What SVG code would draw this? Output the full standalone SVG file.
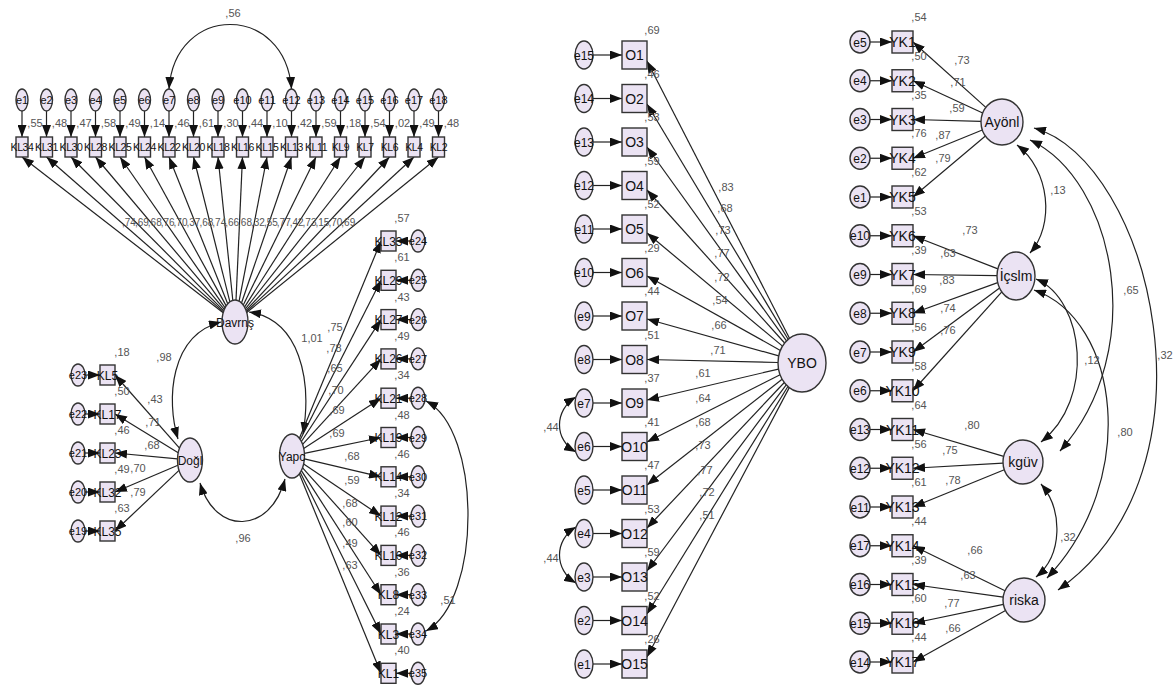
<svg xmlns="http://www.w3.org/2000/svg" width="1175" height="691" viewBox="0 0 1175 691">
<defs>
<marker id="ah" viewBox="0 0 12 9" refX="12" refY="4.5" markerWidth="12" markerHeight="9" markerUnits="userSpaceOnUse" orient="auto-start-reverse"><path d="M0,0L12,4.5L0,9z" fill="#111"/></marker>
<style>
ellipse,rect{fill:#ebe3f3;stroke:#333;stroke-width:1.4}
text{font-family:"Liberation Sans",Arial,sans-serif}
.n{fill:#111;text-anchor:middle;font-size:12px}
.t{font-size:10.5px;letter-spacing:-0.4px}
.s{font-size:11px}
.m{font-size:14px}
.v{fill:#555;font-size:11px;text-anchor:middle}
.vs{fill:#555;font-size:10px}
#connectors line,#connectors path{stroke:#222;stroke-width:1.2;fill:none;marker-end:url(#ah)}
#connectors path.cv{marker-start:url(#ah)}
</style>
</defs>
<rect x="0" y="0" width="1175" height="691" style="fill:#fff;stroke:none"/>
<g id="connectors">
<line x1="22" y1="111" x2="22" y2="137"/><line x1="46.5" y1="111" x2="46.5" y2="137"/><line x1="71" y1="111" x2="71" y2="137"/><line x1="95.5" y1="111" x2="95.5" y2="137"/><line x1="120" y1="111" x2="120" y2="137"/><line x1="144.5" y1="111" x2="144.5" y2="137"/><line x1="169" y1="111" x2="169" y2="137"/><line x1="193.5" y1="111" x2="193.5" y2="137"/><line x1="218" y1="111" x2="218" y2="137"/><line x1="242.5" y1="111" x2="242.5" y2="137"/><line x1="267" y1="111" x2="267" y2="137"/><line x1="291.5" y1="111" x2="291.5" y2="137"/><line x1="316" y1="111" x2="316" y2="137"/><line x1="340.5" y1="111" x2="340.5" y2="137"/><line x1="365" y1="111" x2="365" y2="137"/><line x1="389.5" y1="111" x2="389.5" y2="137"/><line x1="414" y1="111" x2="414" y2="137"/><line x1="438.5" y1="111" x2="438.5" y2="137"/>
<line x1="223.2" y1="312.8" x2="22" y2="157"/><line x1="223.5" y1="311.9" x2="46.5" y2="157"/><line x1="223.8" y1="310.8" x2="71" y2="157"/><line x1="224.3" y1="309.4" x2="95.5" y2="157"/><line x1="225.1" y1="307.8" x2="120" y2="157"/><line x1="226.2" y1="305.9" x2="144.5" y2="157"/><line x1="227.7" y1="303.8" x2="169" y2="157"/><line x1="229.9" y1="301.8" x2="193.5" y2="157"/><line x1="232.8" y1="300.3" x2="218" y2="157"/><line x1="236" y1="300.1" x2="242.5" y2="157"/><line x1="239.1" y1="301.1" x2="267" y2="157"/><line x1="241.5" y1="303" x2="291.5" y2="157"/><line x1="243.3" y1="305.1" x2="316" y2="157"/><line x1="244.5" y1="307.1" x2="340.5" y2="157"/><line x1="245.4" y1="308.8" x2="365" y2="157"/><line x1="246" y1="310.3" x2="389.5" y2="157"/><line x1="246.4" y1="311.5" x2="414" y2="157"/><line x1="246.7" y1="312.5" x2="438.5" y2="157"/>
<path class="cv" d="M169,89 C175,3 285,3 291.5,89"/>
<line x1="85" y1="375" x2="100" y2="375"/><line x1="85" y1="414" x2="100" y2="414"/><line x1="85" y1="453" x2="100" y2="453"/><line x1="85" y1="492" x2="100" y2="492"/><line x1="85" y1="531" x2="100" y2="531"/>
<line x1="179.5" y1="448.1" x2="115" y2="375"/><line x1="178.2" y1="452.8" x2="115" y2="414"/><line x1="177.5" y1="458.8" x2="115" y2="453"/><line x1="177.9" y1="465.2" x2="115" y2="492"/><line x1="179" y1="470.4" x2="115" y2="531"/>
<path class="cv" d="M178,439 C166,400 170,335 221,322"/>
<path class="cv" d="M249,312 C300,320 312,380 303,434"/>
<path class="cv" d="M200,483 C215,535 270,535 285,479"/>
<line x1="411" y1="241" x2="396" y2="241"/><line x1="411" y1="280.3" x2="396" y2="280.3"/><line x1="411" y1="319.6" x2="396" y2="319.6"/><line x1="411" y1="358.9" x2="396" y2="358.9"/><line x1="411" y1="398.2" x2="396" y2="398.2"/><line x1="411" y1="437.5" x2="396" y2="437.5"/><line x1="411" y1="476.8" x2="396" y2="476.8"/><line x1="411" y1="516.1" x2="396" y2="516.1"/><line x1="411" y1="555.4" x2="396" y2="555.4"/><line x1="411" y1="594.7" x2="396" y2="594.7"/><line x1="411" y1="634" x2="396" y2="634"/><line x1="411" y1="673.3" x2="396" y2="673.3"/>
<line x1="299.4" y1="438.2" x2="381" y2="241"/><line x1="300.3" y1="439.6" x2="381" y2="280.3"/><line x1="301.4" y1="441.5" x2="381" y2="319.6"/><line x1="302.6" y1="444.4" x2="381" y2="358.9"/><line x1="303.7" y1="448.4" x2="381" y2="398.2"/><line x1="304.4" y1="453.4" x2="381" y2="437.5"/><line x1="304.4" y1="458.9" x2="381" y2="476.8"/><line x1="303.7" y1="463.9" x2="381" y2="516.1"/><line x1="302.6" y1="467.8" x2="381" y2="555.4"/><line x1="301.4" y1="470.6" x2="381" y2="594.7"/><line x1="300.3" y1="472.5" x2="381" y2="634"/><line x1="299.3" y1="473.8" x2="381" y2="673.3"/>
<path class="cv" d="M426,401 C482,430 482,600 426,631"/>
<line x1="593" y1="55" x2="622" y2="55"/><line x1="593" y1="98.5" x2="622" y2="98.5"/><line x1="593" y1="142" x2="622" y2="142"/><line x1="593" y1="185.5" x2="622" y2="185.5"/><line x1="593" y1="229" x2="622" y2="229"/><line x1="593" y1="272.5" x2="622" y2="272.5"/><line x1="593" y1="316" x2="622" y2="316"/><line x1="593" y1="359.5" x2="622" y2="359.5"/><line x1="593" y1="403" x2="622" y2="403"/><line x1="593" y1="446.5" x2="622" y2="446.5"/><line x1="593" y1="490" x2="622" y2="490"/><line x1="593" y1="533.5" x2="622" y2="533.5"/><line x1="593" y1="577" x2="622" y2="577"/><line x1="593" y1="620.5" x2="622" y2="620.5"/><line x1="593" y1="664" x2="622" y2="664"/>
<line x1="789.5" y1="338.2" x2="647" y2="61"/><line x1="788.1" y1="339.3" x2="647" y2="104"/><line x1="786.5" y1="340.9" x2="647" y2="147"/><line x1="784.6" y1="343" x2="647" y2="190"/><line x1="782.5" y1="346.1" x2="647" y2="233"/><line x1="780.4" y1="350.4" x2="647" y2="276"/><line x1="778.7" y1="355.9" x2="647" y2="319"/><line x1="778" y1="362.5" x2="647" y2="359.5"/><line x1="778.5" y1="369.1" x2="647" y2="400"/><line x1="780.1" y1="374.8" x2="647" y2="442"/><line x1="782.1" y1="379.3" x2="647" y2="485"/><line x1="784.3" y1="382.5" x2="647" y2="528"/><line x1="786.2" y1="384.8" x2="647" y2="571"/><line x1="787.9" y1="386.5" x2="647" y2="614"/><line x1="789.3" y1="387.6" x2="647" y2="657"/>
<path class="cv" d="M576,397 C554,410 554,440 576,452"/>
<path class="cv" d="M576,527 C554,540 554,570 576,583"/>
<line x1="870" y1="42" x2="892" y2="42"/><line x1="870" y1="80.75" x2="892" y2="80.75"/><line x1="870" y1="119.5" x2="892" y2="119.5"/><line x1="870" y1="158.25" x2="892" y2="158.25"/><line x1="870" y1="197" x2="892" y2="197"/><line x1="870" y1="235.75" x2="892" y2="235.75"/><line x1="870" y1="274.5" x2="892" y2="274.5"/><line x1="870" y1="313.25" x2="892" y2="313.25"/><line x1="870" y1="352" x2="892" y2="352"/><line x1="870" y1="390.75" x2="892" y2="390.75"/><line x1="870" y1="429.5" x2="892" y2="429.5"/><line x1="870" y1="468.25" x2="892" y2="468.25"/><line x1="870" y1="507" x2="892" y2="507"/><line x1="870" y1="545.75" x2="892" y2="545.75"/><line x1="870" y1="584.5" x2="892" y2="584.5"/><line x1="870" y1="623.25" x2="892" y2="623.25"/><line x1="870" y1="662" x2="892" y2="662"/>
<line x1="985.8" y1="107.4" x2="913" y2="42"/><line x1="982.7" y1="113" x2="913" y2="80.75"/><line x1="981" y1="121.4" x2="913" y2="119.5"/><line x1="982.3" y1="130" x2="913" y2="158.25"/><line x1="985.4" y1="136" x2="913" y2="197"/>
<line x1="997.9" y1="268.9" x2="913" y2="235.75"/><line x1="997" y1="275.7" x2="913" y2="274.5"/><line x1="997.7" y1="282.6" x2="913" y2="313.25"/><line x1="999.6" y1="288.1" x2="913" y2="352"/><line x1="1001.8" y1="291.9" x2="913" y2="390.75"/>
<line x1="1003.7" y1="456.3" x2="913" y2="429.5"/><line x1="1003" y1="463.1" x2="913" y2="468.25"/><line x1="1004.3" y1="469.7" x2="913" y2="507"/>
<line x1="1005" y1="590.7" x2="913" y2="545.75"/><line x1="1003.2" y1="597.1" x2="913" y2="584.5"/><line x1="1003.4" y1="604.3" x2="913" y2="623.25"/><line x1="1005.5" y1="610.4" x2="913" y2="662"/>
<path class="cv" d="M1017,145 C1050,170 1055,225 1030,253"/>
<path class="cv" d="M1030,140 C1115,180 1150,350 1060,451"/>
<path class="cv" d="M1034,128 C1150,160 1228,470 1058,590"/>
<path class="cv" d="M1036,279 C1085,300 1095,400 1041,442"/>
<path class="cv" d="M1034,290 C1120,320 1140,480 1047,578"/>
<path class="cv" d="M1041,484 C1063,510 1063,555 1036,577"/>
</g>
<g id="labels">
<text class="v" x="233" y="17">,56</text>
<text class="v" x="35" y="127">,55</text><text class="v" x="59.5" y="127">,48</text><text class="v" x="84" y="127">,47</text><text class="v" x="108.5" y="127">,58</text><text class="v" x="133" y="127">,49</text><text class="v" x="157.5" y="127">,14</text><text class="v" x="182" y="127">,46</text><text class="v" x="206.5" y="127">,61</text><text class="v" x="231" y="127">,30</text><text class="v" x="255.5" y="127">,44</text><text class="v" x="280" y="127">,10</text><text class="v" x="304.5" y="127">,42</text><text class="v" x="329" y="127">,59</text><text class="v" x="353.5" y="127">,18</text><text class="v" x="378" y="127">,54</text><text class="v" x="402.5" y="127">,02</text><text class="v" x="427" y="127">,49</text><text class="v" x="451.5" y="127">,48</text>
<text class="vs" x="122" y="226">,74</text><text class="vs" x="134.9" y="226">,69</text><text class="vs" x="147.8" y="226">,68</text><text class="vs" x="160.7" y="226">,76</text><text class="vs" x="173.6" y="226">,70</text><text class="vs" x="186.5" y="226">,37</text><text class="vs" x="199.4" y="226">,68</text><text class="vs" x="212.3" y="226">,74</text><text class="vs" x="225.2" y="226">,66</text><text class="vs" x="238.1" y="226">,68</text><text class="vs" x="251" y="226">,32</text><text class="vs" x="263.9" y="226">,55</text><text class="vs" x="276.8" y="226">,77</text><text class="vs" x="289.7" y="226">,42</text><text class="vs" x="302.6" y="226">,73</text><text class="vs" x="315.5" y="226">,15</text><text class="vs" x="328.4" y="226">,70</text><text class="vs" x="341.3" y="226">,69</text>
<text class="v" x="164" y="361">,98</text><text class="v" x="312" y="342">1,01</text><text class="v" x="243" y="542">,96</text>
<text class="v" x="122" y="356">,18</text><text class="v" x="122" y="395">,50</text><text class="v" x="122" y="434">,46</text><text class="v" x="122" y="473">,49</text><text class="v" x="122" y="512">,63</text>
<text class="v" x="155" y="403">,43</text><text class="v" x="153" y="426">,71</text><text class="v" x="152" y="449">,68</text><text class="v" x="138" y="472">,70</text><text class="v" x="138" y="496">,79</text>
<text class="v" x="402" y="222">,57</text><text class="v" x="402" y="261.3">,61</text><text class="v" x="402" y="300.6">,43</text><text class="v" x="402" y="339.9">,49</text><text class="v" x="402" y="379.2">,34</text><text class="v" x="402" y="418.5">,48</text><text class="v" x="402" y="457.8">,46</text><text class="v" x="402" y="497.1">,34</text><text class="v" x="402" y="536.4">,46</text><text class="v" x="402" y="575.7">,36</text><text class="v" x="402" y="615">,24</text><text class="v" x="402" y="654.3">,40</text>
<text class="v" x="335" y="331">,75</text><text class="v" x="334" y="352">,78</text><text class="v" x="335" y="372">,65</text><text class="v" x="336" y="394">,70</text><text class="v" x="337" y="414">,69</text><text class="v" x="337" y="437">,69</text><text class="v" x="352" y="460">,68</text><text class="v" x="352" y="484">,59</text><text class="v" x="350" y="507">,68</text><text class="v" x="350" y="526">,60</text><text class="v" x="350" y="547">,49</text><text class="v" x="350" y="569">,63</text>
<text class="v" x="448" y="604">,51</text>
<text class="v" x="652" y="34">,69</text><text class="v" x="652" y="77.5">,46</text><text class="v" x="652" y="121">,53</text><text class="v" x="652" y="164.5">,59</text><text class="v" x="652" y="208">,52</text><text class="v" x="652" y="251.5">,29</text><text class="v" x="652" y="295">,44</text><text class="v" x="652" y="338.5">,51</text><text class="v" x="652" y="382">,37</text><text class="v" x="652" y="425.5">,41</text><text class="v" x="652" y="469">,47</text><text class="v" x="652" y="512.5">,53</text><text class="v" x="652" y="556">,59</text><text class="v" x="652" y="599.5">,52</text><text class="v" x="652" y="643">,26</text>
<text class="v" x="726" y="191">,83</text><text class="v" x="725" y="212">,68</text><text class="v" x="723" y="234">,73</text><text class="v" x="722" y="257">,77</text><text class="v" x="722" y="281">,72</text><text class="v" x="720" y="304">,54</text><text class="v" x="719" y="329">,66</text><text class="v" x="718" y="354">,71</text><text class="v" x="703" y="377">,61</text><text class="v" x="703" y="402">,64</text><text class="v" x="703" y="426">,68</text><text class="v" x="703" y="449">,73</text><text class="v" x="705" y="474">,77</text><text class="v" x="707" y="496">,72</text><text class="v" x="707" y="519">,51</text>
<text class="v" x="551" y="431">,44</text><text class="v" x="551" y="562">,44</text>
<text class="v" x="919" y="21">,54</text><text class="v" x="919" y="60">,50</text><text class="v" x="919" y="99">,35</text><text class="v" x="919" y="137">,76</text><text class="v" x="919" y="176">,62</text><text class="v" x="919" y="215">,53</text><text class="v" x="919" y="254">,39</text><text class="v" x="919" y="293">,69</text><text class="v" x="919" y="331">,56</text><text class="v" x="919" y="370">,58</text><text class="v" x="919" y="409">,64</text><text class="v" x="919" y="448">,56</text><text class="v" x="919" y="486">,61</text><text class="v" x="919" y="525">,44</text><text class="v" x="919" y="564">,39</text><text class="v" x="919" y="602">,60</text><text class="v" x="919" y="641">,44</text>
<text class="v" x="962" y="64">,73</text><text class="v" x="958" y="86">,71</text><text class="v" x="957" y="112">,59</text><text class="v" x="943" y="139">,87</text><text class="v" x="943" y="162">,79</text>
<text class="v" x="970" y="234">,73</text><text class="v" x="948" y="257">,63</text><text class="v" x="947" y="284">,83</text><text class="v" x="948" y="312">,74</text><text class="v" x="948" y="334">,76</text>
<text class="v" x="972" y="429">,80</text><text class="v" x="950" y="454">,75</text><text class="v" x="953" y="484">,78</text>
<text class="v" x="975" y="554">,66</text><text class="v" x="968" y="579">,63</text><text class="v" x="952" y="607">,77</text><text class="v" x="953" y="632">,66</text>
<text class="v" x="1058" y="194">,13</text><text class="v" x="1131" y="294">,65</text><text class="v" x="1165" y="359">,32</text><text class="v" x="1092" y="364">,12</text><text class="v" x="1125" y="436">,80</text><text class="v" x="1068" y="541">,32</text>
</g>
<g id="e1"><ellipse cx="22" cy="100" rx="6" ry="11"/><text class="n s" x="22" y="104">e1</text></g>
<g id="e2"><ellipse cx="46.5" cy="100" rx="6" ry="11"/><text class="n s" x="46.5" y="104">e2</text></g>
<g id="e3"><ellipse cx="71" cy="100" rx="6" ry="11"/><text class="n s" x="71" y="104">e3</text></g>
<g id="e4"><ellipse cx="95.5" cy="100" rx="6" ry="11"/><text class="n s" x="95.5" y="104">e4</text></g>
<g id="e5"><ellipse cx="120" cy="100" rx="6" ry="11"/><text class="n s" x="120" y="104">e5</text></g>
<g id="e6"><ellipse cx="144.5" cy="100" rx="6" ry="11"/><text class="n s" x="144.5" y="104">e6</text></g>
<g id="e7"><ellipse cx="169" cy="100" rx="6" ry="11"/><text class="n s" x="169" y="104">e7</text></g>
<g id="e8"><ellipse cx="193.5" cy="100" rx="6" ry="11"/><text class="n s" x="193.5" y="104">e8</text></g>
<g id="e9"><ellipse cx="218" cy="100" rx="6" ry="11"/><text class="n s" x="218" y="104">e9</text></g>
<g id="e10"><ellipse cx="242.5" cy="100" rx="6" ry="11"/><text class="n s" x="242.5" y="104">e10</text></g>
<g id="e11"><ellipse cx="267" cy="100" rx="6" ry="11"/><text class="n s" x="267" y="104">e11</text></g>
<g id="e12"><ellipse cx="291.5" cy="100" rx="6" ry="11"/><text class="n s" x="291.5" y="104">e12</text></g>
<g id="e13"><ellipse cx="316" cy="100" rx="6" ry="11"/><text class="n s" x="316" y="104">e13</text></g>
<g id="e14"><ellipse cx="340.5" cy="100" rx="6" ry="11"/><text class="n s" x="340.5" y="104">e14</text></g>
<g id="e15"><ellipse cx="365" cy="100" rx="6" ry="11"/><text class="n s" x="365" y="104">e15</text></g>
<g id="e16"><ellipse cx="389.5" cy="100" rx="6" ry="11"/><text class="n s" x="389.5" y="104">e16</text></g>
<g id="e17"><ellipse cx="414" cy="100" rx="6" ry="11"/><text class="n s" x="414" y="104">e17</text></g>
<g id="e18"><ellipse cx="438.5" cy="100" rx="6" ry="11"/><text class="n s" x="438.5" y="104">e18</text></g>
<g id="KL34"><rect x="16" y="137" width="12" height="20"/><text class="n t" x="22" y="151">KL34</text></g>
<g id="KL31"><rect x="40.5" y="137" width="12" height="20"/><text class="n t" x="46.5" y="151">KL31</text></g>
<g id="KL30"><rect x="65" y="137" width="12" height="20"/><text class="n t" x="71" y="151">KL30</text></g>
<g id="KL28"><rect x="89.5" y="137" width="12" height="20"/><text class="n t" x="95.5" y="151">KL28</text></g>
<g id="KL25"><rect x="114" y="137" width="12" height="20"/><text class="n t" x="120" y="151">KL25</text></g>
<g id="KL24"><rect x="138.5" y="137" width="12" height="20"/><text class="n t" x="144.5" y="151">KL24</text></g>
<g id="KL22"><rect x="163" y="137" width="12" height="20"/><text class="n t" x="169" y="151">KL22</text></g>
<g id="KL20"><rect x="187.5" y="137" width="12" height="20"/><text class="n t" x="193.5" y="151">KL20</text></g>
<g id="KL18"><rect x="212" y="137" width="12" height="20"/><text class="n t" x="218" y="151">KL18</text></g>
<g id="KL16"><rect x="236.5" y="137" width="12" height="20"/><text class="n t" x="242.5" y="151">KL16</text></g>
<g id="KL15"><rect x="261" y="137" width="12" height="20"/><text class="n t" x="267" y="151">KL15</text></g>
<g id="KL13"><rect x="285.5" y="137" width="12" height="20"/><text class="n t" x="291.5" y="151">KL13</text></g>
<g id="KL11"><rect x="310" y="137" width="12" height="20"/><text class="n t" x="316" y="151">KL11</text></g>
<g id="KL9"><rect x="334.5" y="137" width="12" height="20"/><text class="n t" x="340.5" y="151">KL9</text></g>
<g id="KL7"><rect x="359" y="137" width="12" height="20"/><text class="n t" x="365" y="151">KL7</text></g>
<g id="KL6"><rect x="383.5" y="137" width="12" height="20"/><text class="n t" x="389.5" y="151">KL6</text></g>
<g id="KL4"><rect x="408" y="137" width="12" height="20"/><text class="n t" x="414" y="151">KL4</text></g>
<g id="KL2"><rect x="432.5" y="137" width="12" height="20"/><text class="n t" x="438.5" y="151">KL2</text></g>
<g id="Davrns"><ellipse cx="235" cy="322" rx="13" ry="22"/><text class="n" x="235" y="326.5">Davrnş</text></g>
<g id="Dogl"><ellipse cx="190" cy="460" rx="12.5" ry="22"/><text class="n" x="190" y="464.5">Doğl</text></g>
<g id="Yapc"><ellipse cx="292" cy="456" rx="12.5" ry="22"/><text class="n" x="292" y="460.5">Yapc</text></g>
<g id="e23"><ellipse cx="78" cy="375" rx="7" ry="11"/><text class="n s" x="78" y="379">e23</text></g>
<g id="e22"><ellipse cx="78" cy="414" rx="7" ry="11"/><text class="n s" x="78" y="418">e22</text></g>
<g id="e21"><ellipse cx="78" cy="453" rx="7" ry="11"/><text class="n s" x="78" y="457">e21</text></g>
<g id="e20"><ellipse cx="78" cy="492" rx="7" ry="11"/><text class="n s" x="78" y="496">e20</text></g>
<g id="e19"><ellipse cx="78" cy="531" rx="7" ry="11"/><text class="n s" x="78" y="535">e19</text></g>
<g id="KL5"><rect x="100" y="365" width="15" height="20"/><text class="n" x="107.5" y="379.5">KL5</text></g>
<g id="KL17"><rect x="100" y="404" width="15" height="20"/><text class="n" x="107.5" y="418.5">KL17</text></g>
<g id="KL23"><rect x="100" y="443" width="15" height="20"/><text class="n" x="107.5" y="457.5">KL23</text></g>
<g id="KL32"><rect x="100" y="482" width="15" height="20"/><text class="n" x="107.5" y="496.5">KL32</text></g>
<g id="KL35"><rect x="100" y="521" width="15" height="20"/><text class="n" x="107.5" y="535.5">KL35</text></g>
<g id="KL33"><rect x="381" y="231" width="15" height="20"/><text class="n" x="388.5" y="245.5">KL33</text></g>
<g id="KL29"><rect x="381" y="270.3" width="15" height="20"/><text class="n" x="388.5" y="284.8">KL29</text></g>
<g id="KL27"><rect x="381" y="309.6" width="15" height="20"/><text class="n" x="388.5" y="324.1">KL27</text></g>
<g id="KL26"><rect x="381" y="348.9" width="15" height="20"/><text class="n" x="388.5" y="363.4">KL26</text></g>
<g id="KL21"><rect x="381" y="388.2" width="15" height="20"/><text class="n" x="388.5" y="402.7">KL21</text></g>
<g id="KL19"><rect x="381" y="427.5" width="15" height="20"/><text class="n" x="388.5" y="442">KL19</text></g>
<g id="KL14"><rect x="381" y="466.8" width="15" height="20"/><text class="n" x="388.5" y="481.3">KL14</text></g>
<g id="KL12"><rect x="381" y="506.1" width="15" height="20"/><text class="n" x="388.5" y="520.6">KL12</text></g>
<g id="KL10"><rect x="381" y="545.4" width="15" height="20"/><text class="n" x="388.5" y="559.9">KL10</text></g>
<g id="KL8"><rect x="381" y="584.7" width="15" height="20"/><text class="n" x="388.5" y="599.2">KL8</text></g>
<g id="KL3"><rect x="381" y="624" width="15" height="20"/><text class="n" x="388.5" y="638.5">KL3</text></g>
<g id="KL1"><rect x="381" y="663.3" width="15" height="20"/><text class="n" x="388.5" y="677.8">KL1</text></g>
<g id="e24"><ellipse cx="418" cy="241" rx="7" ry="11"/><text class="n s" x="418" y="245">e24</text></g>
<g id="e25"><ellipse cx="418" cy="280.3" rx="7" ry="11"/><text class="n s" x="418" y="284.3">e25</text></g>
<g id="e26"><ellipse cx="418" cy="319.6" rx="7" ry="11"/><text class="n s" x="418" y="323.6">e26</text></g>
<g id="e27"><ellipse cx="418" cy="358.9" rx="7" ry="11"/><text class="n s" x="418" y="362.9">e27</text></g>
<g id="e28"><ellipse cx="418" cy="398.2" rx="7" ry="11"/><text class="n s" x="418" y="402.2">e28</text></g>
<g id="e29"><ellipse cx="418" cy="437.5" rx="7" ry="11"/><text class="n s" x="418" y="441.5">e29</text></g>
<g id="e30"><ellipse cx="418" cy="476.8" rx="7" ry="11"/><text class="n s" x="418" y="480.8">e30</text></g>
<g id="e31"><ellipse cx="418" cy="516.1" rx="7" ry="11"/><text class="n s" x="418" y="520.1">e31</text></g>
<g id="e32"><ellipse cx="418" cy="555.4" rx="7" ry="11"/><text class="n s" x="418" y="559.4">e32</text></g>
<g id="e33"><ellipse cx="418" cy="594.7" rx="7" ry="11"/><text class="n s" x="418" y="598.7">e33</text></g>
<g id="e34"><ellipse cx="418" cy="634" rx="7" ry="11"/><text class="n s" x="418" y="638">e34</text></g>
<g id="e35"><ellipse cx="418" cy="673.3" rx="7" ry="11"/><text class="n s" x="418" y="677.3">e35</text></g>
<g id="YBO"><ellipse cx="802" cy="363" rx="24" ry="29"/><text class="n m" x="802" y="368">YBO</text></g>
<g id="O1"><rect x="622" y="41" width="25" height="28"/><text class="n m" x="634.5" y="60">O1</text></g>
<g id="O2"><rect x="622" y="84.5" width="25" height="28"/><text class="n m" x="634.5" y="103.5">O2</text></g>
<g id="O3"><rect x="622" y="128" width="25" height="28"/><text class="n m" x="634.5" y="147">O3</text></g>
<g id="O4"><rect x="622" y="171.5" width="25" height="28"/><text class="n m" x="634.5" y="190.5">O4</text></g>
<g id="O5"><rect x="622" y="215" width="25" height="28"/><text class="n m" x="634.5" y="234">O5</text></g>
<g id="O6"><rect x="622" y="258.5" width="25" height="28"/><text class="n m" x="634.5" y="277.5">O6</text></g>
<g id="O7"><rect x="622" y="302" width="25" height="28"/><text class="n m" x="634.5" y="321">O7</text></g>
<g id="O8"><rect x="622" y="345.5" width="25" height="28"/><text class="n m" x="634.5" y="364.5">O8</text></g>
<g id="O9"><rect x="622" y="389" width="25" height="28"/><text class="n m" x="634.5" y="408">O9</text></g>
<g id="O10"><rect x="622" y="432.5" width="25" height="28"/><text class="n m" x="634.5" y="451.5">O10</text></g>
<g id="O11"><rect x="622" y="476" width="25" height="28"/><text class="n m" x="634.5" y="495">O11</text></g>
<g id="O12"><rect x="622" y="519.5" width="25" height="28"/><text class="n m" x="634.5" y="538.5">O12</text></g>
<g id="O13"><rect x="622" y="563" width="25" height="28"/><text class="n m" x="634.5" y="582">O13</text></g>
<g id="O14"><rect x="622" y="606.5" width="25" height="28"/><text class="n m" x="634.5" y="625.5">O14</text></g>
<g id="O15"><rect x="622" y="650" width="25" height="28"/><text class="n m" x="634.5" y="669">O15</text></g>
<g id="m-e15"><ellipse cx="584" cy="55" rx="9" ry="14"/><text class="n" x="584" y="59.5">e15</text></g>
<g id="m-e14"><ellipse cx="584" cy="98.5" rx="9" ry="14"/><text class="n" x="584" y="103">e14</text></g>
<g id="m-e13"><ellipse cx="584" cy="142" rx="9" ry="14"/><text class="n" x="584" y="146.5">e13</text></g>
<g id="m-e12"><ellipse cx="584" cy="185.5" rx="9" ry="14"/><text class="n" x="584" y="190">e12</text></g>
<g id="m-e11"><ellipse cx="584" cy="229" rx="9" ry="14"/><text class="n" x="584" y="233.5">e11</text></g>
<g id="m-e10"><ellipse cx="584" cy="272.5" rx="9" ry="14"/><text class="n" x="584" y="277">e10</text></g>
<g id="m-e9"><ellipse cx="584" cy="316" rx="9" ry="14"/><text class="n" x="584" y="320.5">e9</text></g>
<g id="m-e8"><ellipse cx="584" cy="359.5" rx="9" ry="14"/><text class="n" x="584" y="364">e8</text></g>
<g id="m-e7"><ellipse cx="584" cy="403" rx="9" ry="14"/><text class="n" x="584" y="407.5">e7</text></g>
<g id="m-e6"><ellipse cx="584" cy="446.5" rx="9" ry="14"/><text class="n" x="584" y="451">e6</text></g>
<g id="m-e5"><ellipse cx="584" cy="490" rx="9" ry="14"/><text class="n" x="584" y="494.5">e5</text></g>
<g id="m-e4"><ellipse cx="584" cy="533.5" rx="9" ry="14"/><text class="n" x="584" y="538">e4</text></g>
<g id="m-e3"><ellipse cx="584" cy="577" rx="9" ry="14"/><text class="n" x="584" y="581.5">e3</text></g>
<g id="m-e2"><ellipse cx="584" cy="620.5" rx="9" ry="14"/><text class="n" x="584" y="625">e2</text></g>
<g id="m-e1"><ellipse cx="584" cy="664" rx="9" ry="14"/><text class="n" x="584" y="668.5">e1</text></g>
<g id="Ayonl"><ellipse cx="1002" cy="122" rx="21" ry="23"/><text class="n m" x="1002" y="127">Ayönl</text></g>
<g id="Icslm"><ellipse cx="1016" cy="276" rx="19" ry="24"/><text class="n m" x="1016" y="281">İçslm</text></g>
<g id="kguv"><ellipse cx="1023" cy="462" rx="20" ry="22"/><text class="n m" x="1023" y="467">kgüv</text></g>
<g id="riska"><ellipse cx="1024" cy="600" rx="21" ry="22"/><text class="n m" x="1024" y="605">riska</text></g>
<g id="YK1"><rect x="892" y="31" width="21" height="22"/><text class="n m" x="902.5" y="47">YK1</text></g>
<g id="YK2"><rect x="892" y="69.75" width="21" height="22"/><text class="n m" x="902.5" y="85.75">YK2</text></g>
<g id="YK3"><rect x="892" y="108.5" width="21" height="22"/><text class="n m" x="902.5" y="124.5">YK3</text></g>
<g id="YK4"><rect x="892" y="147.25" width="21" height="22"/><text class="n m" x="902.5" y="163.25">YK4</text></g>
<g id="YK5"><rect x="892" y="186" width="21" height="22"/><text class="n m" x="902.5" y="202">YK5</text></g>
<g id="YK6"><rect x="892" y="224.75" width="21" height="22"/><text class="n m" x="902.5" y="240.75">YK6</text></g>
<g id="YK7"><rect x="892" y="263.5" width="21" height="22"/><text class="n m" x="902.5" y="279.5">YK7</text></g>
<g id="YK8"><rect x="892" y="302.25" width="21" height="22"/><text class="n m" x="902.5" y="318.25">YK8</text></g>
<g id="YK9"><rect x="892" y="341" width="21" height="22"/><text class="n m" x="902.5" y="357">YK9</text></g>
<g id="YK10"><rect x="892" y="379.75" width="21" height="22"/><text class="n m" x="902.5" y="395.75">YK10</text></g>
<g id="YK11"><rect x="892" y="418.5" width="21" height="22"/><text class="n m" x="902.5" y="434.5">YK11</text></g>
<g id="YK12"><rect x="892" y="457.25" width="21" height="22"/><text class="n m" x="902.5" y="473.25">YK12</text></g>
<g id="YK13"><rect x="892" y="496" width="21" height="22"/><text class="n m" x="902.5" y="512">YK13</text></g>
<g id="YK14"><rect x="892" y="534.75" width="21" height="22"/><text class="n m" x="902.5" y="550.75">YK14</text></g>
<g id="YK15"><rect x="892" y="573.5" width="21" height="22"/><text class="n m" x="902.5" y="589.5">YK15</text></g>
<g id="YK16"><rect x="892" y="612.25" width="21" height="22"/><text class="n m" x="902.5" y="628.25">YK16</text></g>
<g id="YK17"><rect x="892" y="651" width="21" height="22"/><text class="n m" x="902.5" y="667">YK17</text></g>
<g id="r-e5"><ellipse cx="860" cy="42" rx="10" ry="11"/><text class="n" x="860" y="46.5">e5</text></g>
<g id="r-e4"><ellipse cx="860" cy="80.75" rx="10" ry="11"/><text class="n" x="860" y="85.25">e4</text></g>
<g id="r-e3"><ellipse cx="860" cy="119.5" rx="10" ry="11"/><text class="n" x="860" y="124">e3</text></g>
<g id="r-e2"><ellipse cx="860" cy="158.25" rx="10" ry="11"/><text class="n" x="860" y="162.75">e2</text></g>
<g id="r-e1"><ellipse cx="860" cy="197" rx="10" ry="11"/><text class="n" x="860" y="201.5">e1</text></g>
<g id="r-e10"><ellipse cx="860" cy="235.75" rx="10" ry="11"/><text class="n" x="860" y="240.25">e10</text></g>
<g id="r-e9"><ellipse cx="860" cy="274.5" rx="10" ry="11"/><text class="n" x="860" y="279">e9</text></g>
<g id="r-e8"><ellipse cx="860" cy="313.25" rx="10" ry="11"/><text class="n" x="860" y="317.75">e8</text></g>
<g id="r-e7"><ellipse cx="860" cy="352" rx="10" ry="11"/><text class="n" x="860" y="356.5">e7</text></g>
<g id="r-e6"><ellipse cx="860" cy="390.75" rx="10" ry="11"/><text class="n" x="860" y="395.25">e6</text></g>
<g id="r-e13"><ellipse cx="860" cy="429.5" rx="10" ry="11"/><text class="n" x="860" y="434">e13</text></g>
<g id="r-e12"><ellipse cx="860" cy="468.25" rx="10" ry="11"/><text class="n" x="860" y="472.75">e12</text></g>
<g id="r-e11"><ellipse cx="860" cy="507" rx="10" ry="11"/><text class="n" x="860" y="511.5">e11</text></g>
<g id="r-e17"><ellipse cx="860" cy="545.75" rx="10" ry="11"/><text class="n" x="860" y="550.25">e17</text></g>
<g id="r-e16"><ellipse cx="860" cy="584.5" rx="10" ry="11"/><text class="n" x="860" y="589">e16</text></g>
<g id="r-e15"><ellipse cx="860" cy="623.25" rx="10" ry="11"/><text class="n" x="860" y="627.75">e15</text></g>
<g id="r-e14"><ellipse cx="860" cy="662" rx="10" ry="11"/><text class="n" x="860" y="666.5">e14</text></g>
</svg>
